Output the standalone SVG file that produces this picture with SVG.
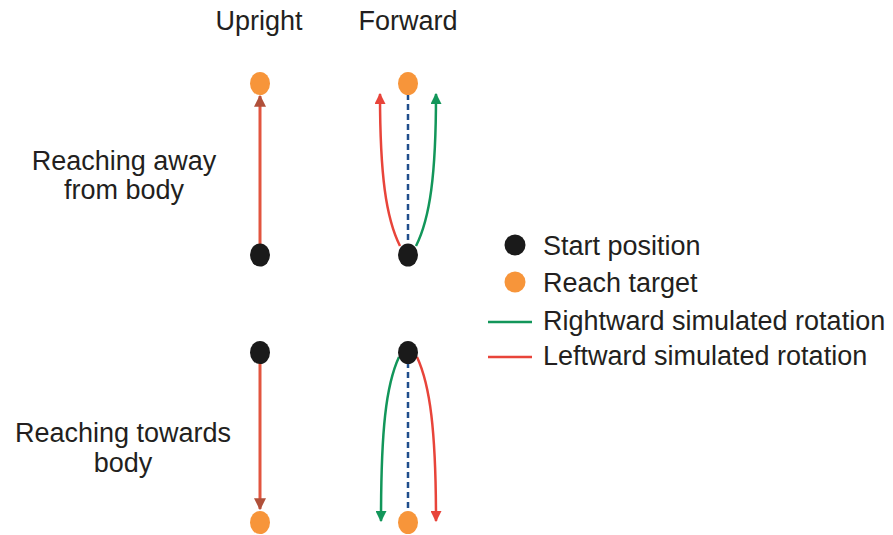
<svg xmlns="http://www.w3.org/2000/svg" width="893" height="535" viewBox="0 0 893 535">
<defs>
<style>
text{font-family:"Liberation Sans",Arial,sans-serif;font-size:27px;fill:#231f20}
.start{fill:#1a1a1a}
.target{fill:#f7953a}
.red{stroke:#e8443a;stroke-width:2.5;fill:none}
.green{stroke:#12965a;stroke-width:2.5;fill:none}
.straight{stroke:#e2553f;stroke-width:3;fill:none}
.dash{stroke:#1f4e8c;stroke-width:2.5;stroke-dasharray:6,4;fill:none}
</style>
<marker id="ar" viewBox="0 0 10 10" refX="9" refY="5" markerWidth="11" markerHeight="11" markerUnits="userSpaceOnUse" orient="auto"><path d="M0,0 L10,5 L0,10 Z" fill="#e8443a"/></marker>
<marker id="ag" viewBox="0 0 10 10" refX="9" refY="5" markerWidth="11" markerHeight="11" markerUnits="userSpaceOnUse" orient="auto"><path d="M0,0 L10,5 L0,10 Z" fill="#12965a"/></marker>
<marker id="as" viewBox="0 0 10 10" refX="9" refY="5" markerWidth="12" markerHeight="12" markerUnits="userSpaceOnUse" orient="auto"><path d="M0,0 L10,5 L0,10 Z" fill="#b0503a"/></marker>
</defs>
<rect width="893" height="535" fill="#ffffff"/>

<g id="labels">
<text x="259" y="30" text-anchor="middle">Upright</text>
<text x="408" y="30" text-anchor="middle">Forward</text>
<text x="124" y="170" text-anchor="middle">Reaching away</text>
<text x="124" y="199" text-anchor="middle">from body</text>
<text x="123" y="442" text-anchor="middle">Reaching towards</text>
<text x="123" y="472" text-anchor="middle">body</text>
</g>

<g id="connectors">
<line class="straight" x1="260" y1="244" x2="260" y2="96" marker-end="url(#as)"/>
<line class="dash" x1="408" y1="94" x2="408" y2="244"/>
<path class="red" d="M400,246 C386,218 380,175 380,94" marker-end="url(#ar)"/>
<path class="green" d="M416,246 C430,218 436,175 436,94" marker-end="url(#ag)"/>

<line class="straight" x1="260" y1="362" x2="260" y2="509" marker-end="url(#as)"/>
<line class="dash" x1="408" y1="362" x2="408" y2="512"/>
<path class="green" d="M399,357 C386,385 381,430 381,521" marker-end="url(#ag)"/>
<path class="red" d="M417,357 C430,385 436,430 436,521" marker-end="url(#ar)"/>
</g>

<g id="upright-away-target"><ellipse class="target" cx="260" cy="83.5" rx="10" ry="11.5"/></g>
<g id="upright-away-start"><ellipse class="start" cx="260" cy="255" rx="10" ry="11.5"/></g>
<g id="forward-away-target"><ellipse class="target" cx="408" cy="83.5" rx="10" ry="11.5"/></g>
<g id="forward-away-start"><ellipse class="start" cx="408" cy="255" rx="10" ry="11.5"/></g>
<g id="upright-towards-start"><ellipse class="start" cx="260" cy="352.5" rx="10" ry="11.5"/></g>
<g id="upright-towards-target"><ellipse class="target" cx="260" cy="522.5" rx="10" ry="11.5"/></g>
<g id="forward-towards-start"><ellipse class="start" cx="408" cy="352.5" rx="10" ry="11.5"/></g>
<g id="forward-towards-target"><ellipse class="target" cx="408" cy="522.5" rx="10" ry="11.5"/></g>

<g id="legend">
<ellipse class="start" cx="515" cy="245" rx="10.5" ry="10.5"/>
<text x="543" y="255">Start position</text>
<ellipse class="target" cx="515" cy="282" rx="10.5" ry="10.5"/>
<text x="543" y="292">Reach target</text>
<line x1="488" y1="322" x2="532" y2="322" stroke="#12965a" stroke-width="2.5"/>
<text x="543" y="330">Rightward simulated rotation</text>
<line x1="488" y1="357" x2="532" y2="357" stroke="#e8443a" stroke-width="2.5"/>
<text x="543" y="365">Leftward simulated rotation</text>
</g>
</svg>
